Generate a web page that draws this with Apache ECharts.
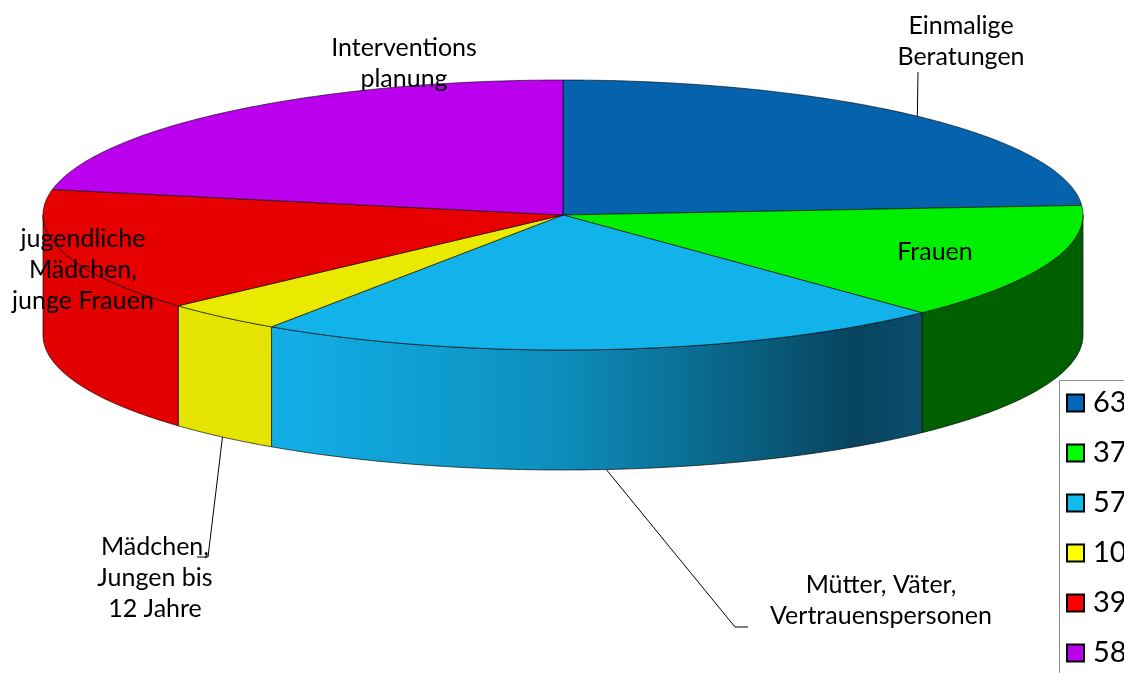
<!DOCTYPE html>
<html>
<head>
<meta charset="utf-8">
<script src="https://cdn.jsdelivr.net/npm/echarts@6/dist/echarts.min.js"></script>
<style>html,body{margin:0;padding:0;background:#fff}#chart{width:1124px;height:673px}</style>
</head>
<body>
<div id="chart"></div>
<script>
// ---- data ----
const categories = ['Einmalige\nBeratungen', 'Frauen', 'Mütter, Väter,\nVertrauenspersonen', 'Mädchen,\nJungen bis\n12 Jahre', 'jugendliche\nMädchen,\njunge Frauen', 'Interventions\nplanung'];
const values = [63, 37, 57, 10, 39, 58];
const legendLabels = ['63', '37', '57', '10', '39', '58'];

// ---- styles / layout ----
const topColors = ['#0563ad', '#00ee00', '#12b2ea', '#eaea00', '#e60000', '#bb00ee'];
const legendColors = ['#0066b8', '#00ff00', '#11bbee', '#ffff00', '#ff0000', '#bb00ee'];
const sideColors = ['#03457a', '#006000', null, '#e4e400', '#e20000', '#8800aa'];
const CX = 563, CY = 215, RX = 520, RY = 135, DEPTH = 120;
const FONT = 'Lato, "Open Sans", sans-serif';
const labelLayout = [
  { x: 961, y: 41, leader: [[918, 72]] },
  { x: 935, y: 252 },
  { x: 881, y: 600, leader: [[735, 627], [748, 627]] },
  { x: 155, y: 578, leader: [[208, 557], [197, 557]] },
  { x: 83, y: 270 },
  { x: 404, y: 63 }
];

const total = values.reduce((a, b) => a + b, 0);
const rad = d => d * Math.PI / 180;
const pt = (a, dy) => [CX + RX * Math.sin(rad(a)), CY - RY * Math.cos(rad(a)) + (dy || 0)];

function makeRender(i) {
  return function (params, api) {
    let before = 0;
    for (let k = 0; k < i; k++) before += values[k];
    const start = before / total * 360;
    const end = (before + api.value(0)) / total * 360;
    const children = [];
    // side wall (front half only)
    const s = Math.max(start, 90), e = Math.min(end, 270);
    if (e > s) {
      const pts = [];
      for (let a = s; a < e; a += 0.5) pts.push(pt(a));
      pts.push(pt(e));
      for (let a = e; a > s; a -= 0.5) pts.push(pt(a, DEPTH));
      pts.push(pt(s, DEPTH));
      let fill = sideColors[i];
      if (!fill) {
        const x0 = pt(s)[0], x1 = pt(e)[0];
        fill = new echarts.graphic.LinearGradient(Math.min(x0, x1), 0, Math.max(x0, x1), 0, [
          { offset: 0, color: '#12b0e8' },
          { offset: 0.45, color: '#0d8dbb' },
          { offset: 0.9, color: '#07445e' },
          { offset: 1, color: '#0b4e6c' }
        ], true);
      }
      children.push({ type: 'polygon', shape: { points: pts }, style: { fill: fill, stroke: 'rgba(0,0,0,0.65)', lineWidth: 1 } });
    }
    // top face
    const top = [[CX, CY]];
    for (let a = start; a < end; a += 0.5) top.push(pt(a));
    top.push(pt(end));
    children.push({ type: 'polygon', shape: { points: top }, style: { fill: topColors[i], stroke: 'rgba(0,0,0,0.6)', lineWidth: 1 } });
    // label + leader
    const L = labelLayout[i];
    if (L.leader) {
      const m = (start + end) / 2;
      const p0 = (m > 90 && m < 270) ? pt(m, DEPTH) : pt(m);
      children.push({ type: 'polyline', shape: { points: [p0].concat(L.leader) }, style: { stroke: '#000', lineWidth: 1, fill: null }, z2: 50 });
    }
    children.push({ type: 'text', x: L.x, y: L.y, z2: 100,
      style: { text: categories[i], fontSize: 25, fontFamily: FONT, fill: '#000', align: 'center', verticalAlign: 'middle', lineHeight: 31 } });
    return { type: 'group', children: children };
  };
}

const series = categories.map((c, i) => ({
  type: 'custom',
  name: c,
  coordinateSystem: 'none',
  silent: true,
  itemStyle: { color: legendColors[i] },
  data: [[values[i]]],
  renderItem: makeRender(i)
}));

const chart = echarts.init(document.getElementById('chart'), null, { renderer: 'canvas' });
chart.setOption({
  backgroundColor: '#fff',
  animation: false,
  graphic: [{
    type: 'rect', left: 1057, top: 378, silent: true,
    shape: { width: 120, height: 400 },
    style: { fill: null, stroke: '#8c8c8c', lineWidth: 1 }
  }],
  legend: {
    data: categories,
    orient: 'vertical',
    left: 1066,
    top: 388,
    padding: 0,
    itemGap: 20,
    itemWidth: 17,
    itemHeight: 17,
    icon: 'rect',
    selectedMode: false,
    itemStyle: { borderColor: '#000', borderWidth: 2 },
    formatter: name => legendLabels[categories.indexOf(name)],
    textStyle: { fontSize: 29, fontFamily: FONT, color: '#000', lineHeight: 30, padding: [0, 0, 0, 4] }
  },
  series: series
});
</script>
</body>
</html>
